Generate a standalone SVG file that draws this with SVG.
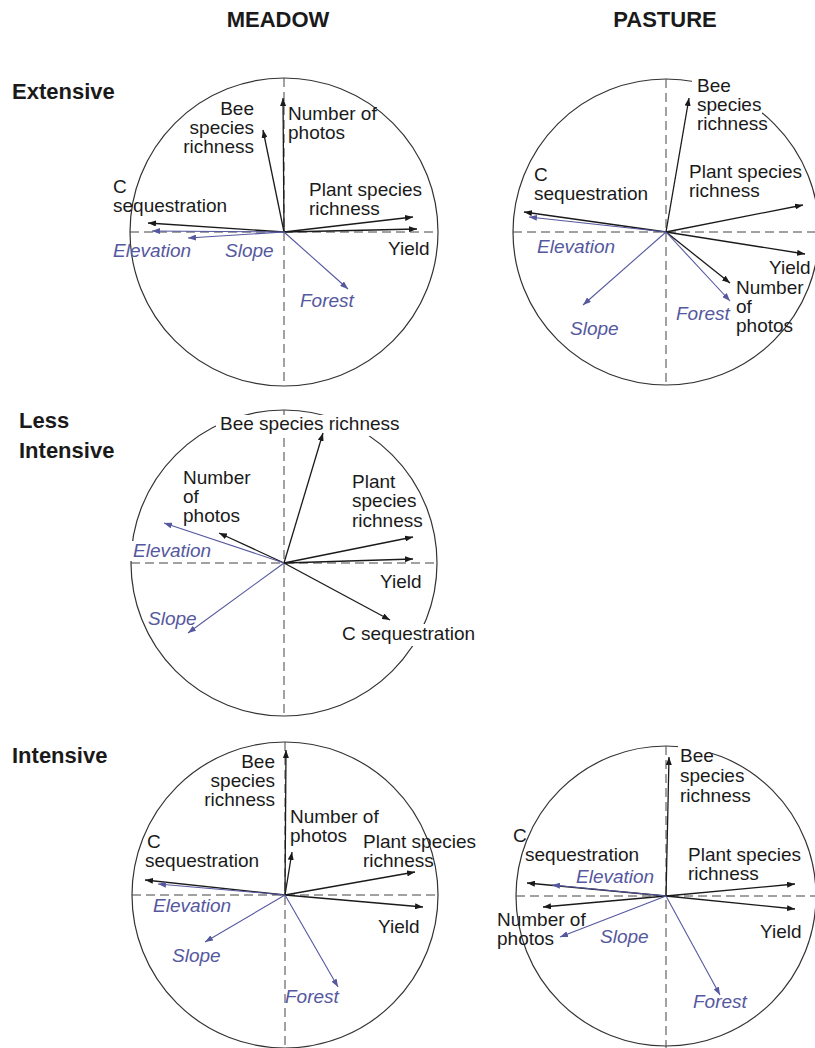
<svg xmlns="http://www.w3.org/2000/svg" width="815" height="1048" viewBox="0 0 815 1048">
<defs>
<marker id="ab" viewBox="0 0 8 6" refX="8" refY="3" markerWidth="8" markerHeight="6" markerUnits="userSpaceOnUse" orient="auto"><path d="M0,0 L8,3 L0,6 z" fill="#1a1a1a"/></marker>
<marker id="au" viewBox="0 0 8 6" refX="8" refY="3" markerWidth="8" markerHeight="6" markerUnits="userSpaceOnUse" orient="auto"><path d="M0,0 L8,3 L0,6 z" fill="#55589e"/></marker>
</defs>
<style>
.circ{fill:none;stroke:#333;stroke-width:1.2}
.ax{stroke:#444;stroke-width:1;stroke-dasharray:9 5;fill:none}
.bg{fill:#fff}
.k{stroke:#1a1a1a;stroke-width:1.3;fill:none;marker-end:url(#ab)}
.u{stroke:#55589e;stroke-width:1.1;fill:none;marker-end:url(#au)}
.t{font-family:"Liberation Sans",Arial,sans-serif;font-size:19px;fill:#1a1a1a}
.b{font-style:italic;fill:#55589e}
.e{text-anchor:end}
.h{font-family:"Liberation Sans",Arial,sans-serif;font-size:22px;font-weight:bold;fill:#1a1a1a}
</style>
<rect width="815" height="1048" fill="#fff"/>
<g id="titles">
<text class="h" x="278" y="27" text-anchor="middle">MEADOW</text>
<text class="h" x="665" y="27" text-anchor="middle">PASTURE</text>
<text class="h" x="12" y="99">Extensive</text>
<text class="h" x="19" y="428">Less</text>
<text class="h" x="19" y="458">Intensive</text>
<text class="h" x="12" y="763">Intensive</text>
</g>

<g id="meadow-extensive">
<circle class="circ" cx="284" cy="232" r="154"/>
<line class="ax" x1="130" y1="232" x2="438" y2="232"/>
<line class="ax" x1="284" y1="78" x2="284" y2="386"/>
<g class="arrows">
<line class="k" x1="284" y1="232" x2="283" y2="98"/>
<line class="k" x1="284" y1="232" x2="263" y2="130"/>
<line class="k" x1="284" y1="232" x2="413" y2="217"/>
<line class="k" x1="284" y1="232" x2="417" y2="229"/>
<line class="k" x1="284" y1="232" x2="148" y2="223"/>
<line class="u" x1="284" y1="232" x2="152" y2="231"/>
<line class="u" x1="284" y1="232" x2="188" y2="238"/>
<line class="u" x1="284" y1="232" x2="348" y2="289"/>
</g>
<text class="t e" x="254" y="115">Bee</text>
<text class="t e" x="254" y="134">species</text>
<text class="t e" x="254" y="153">richness</text>
<text class="t" x="288" y="120">Number of</text>
<text class="t" x="288" y="139">photos</text>
<text class="t" x="113" y="193">C</text>
<text class="t" x="113" y="212">sequestration</text>
<text class="t" x="309" y="196">Plant species</text>
<text class="t" x="309" y="215">richness</text>
<text class="t" x="388" y="255">Yield</text>
<text class="t b" x="113" y="257">Elevation</text>
<text class="t b" x="225" y="257">Slope</text>
<text class="t b" x="300" y="307">Forest</text>
</g>

<g id="pasture-extensive">
<circle class="circ" cx="666" cy="232" r="153"/>
<line class="ax" x1="513" y1="232" x2="815" y2="232"/>
<line class="ax" x1="666" y1="79" x2="666" y2="385"/>
<rect class="bg" x="692" y="76" width="70" height="42"/>
<g class="arrows">
<line class="k" x1="666" y1="232" x2="689" y2="98"/>
<line class="k" x1="666" y1="232" x2="803" y2="205"/>
<line class="k" x1="666" y1="232" x2="805" y2="254"/>
<line class="k" x1="666" y1="232" x2="730" y2="283"/>
<line class="k" x1="666" y1="232" x2="524" y2="212"/>
<line class="u" x1="666" y1="232" x2="529" y2="217"/>
<line class="u" x1="666" y1="232" x2="583" y2="305"/>
<line class="u" x1="666" y1="232" x2="730" y2="301"/>
</g>
<text class="t" x="697" y="92">Bee</text>
<text class="t" x="697" y="111">species</text>
<text class="t" x="697" y="130">richness</text>
<text class="t" x="534" y="181">C</text>
<text class="t" x="534" y="200">sequestration</text>
<text class="t" x="689" y="178">Plant species</text>
<text class="t" x="689" y="197">richness</text>
<text class="t" x="769" y="274">Yield</text>
<text class="t" x="736" y="294">Number</text>
<text class="t" x="736" y="313">of</text>
<text class="t" x="736" y="332">photos</text>
<text class="t b" x="537" y="253">Elevation</text>
<text class="t b" x="570" y="335">Slope</text>
<text class="t b" x="676" y="320">Forest</text>
</g>

<g id="meadow-less-intensive">
<circle class="circ" cx="284" cy="563" r="153"/>
<line class="ax" x1="131" y1="563" x2="437" y2="563"/>
<line class="ax" x1="284" y1="410" x2="284" y2="716"/>
<rect class="bg" x="216" y="415" width="190" height="21"/>
<rect class="bg" x="340" y="624" width="138" height="22"/>
<rect class="bg" x="129" y="541" width="84" height="20"/>
<g class="arrows">
<line class="k" x1="284" y1="563" x2="323" y2="433"/>
<line class="k" x1="284" y1="563" x2="219" y2="533"/>
<line class="k" x1="284" y1="563" x2="413" y2="537"/>
<line class="k" x1="284" y1="563" x2="413" y2="559"/>
<line class="k" x1="284" y1="563" x2="390" y2="620"/>
<line class="u" x1="284" y1="563" x2="164" y2="523"/>
<line class="u" x1="284" y1="563" x2="188" y2="633"/>
</g>
<text class="t" x="220" y="430">Bee species richness</text>
<text class="t" x="183" y="484">Number</text>
<text class="t" x="183" y="503">of</text>
<text class="t" x="183" y="522">photos</text>
<text class="t" x="352" y="488">Plant</text>
<text class="t" x="352" y="507">species</text>
<text class="t" x="352" y="527">richness</text>
<text class="t" x="380" y="588">Yield</text>
<text class="t" x="342" y="640">C sequestration</text>
<text class="t b" x="133" y="557">Elevation</text>
<text class="t b" x="148" y="625">Slope</text>
</g>

<g id="meadow-intensive">
<circle class="circ" cx="285" cy="895" r="153"/>
<line class="ax" x1="132" y1="895" x2="438" y2="895"/>
<line class="ax" x1="285" y1="742" x2="285" y2="1048"/>
<g class="arrows">
<line class="k" x1="285" y1="895" x2="286" y2="750"/>
<line class="k" x1="285" y1="895" x2="292" y2="852"/>
<line class="k" x1="285" y1="895" x2="415" y2="872"/>
<line class="k" x1="285" y1="895" x2="423" y2="907"/>
<line class="k" x1="285" y1="895" x2="145" y2="880"/>
<line class="u" x1="285" y1="895" x2="158" y2="884"/>
<line class="u" x1="285" y1="895" x2="205" y2="942"/>
<line class="u" x1="285" y1="895" x2="338" y2="987"/>
</g>
<text class="t e" x="275" y="768">Bee</text>
<text class="t e" x="275" y="787">species</text>
<text class="t e" x="275" y="806">richness</text>
<text class="t" x="290" y="823">Number of</text>
<text class="t" x="290" y="842">photos</text>
<text class="t" x="147" y="848">C</text>
<text class="t" x="145" y="867">sequestration</text>
<text class="t" x="363" y="848">Plant species</text>
<text class="t" x="363" y="867">richness</text>
<text class="t" x="378" y="933">Yield</text>
<text class="t b" x="153" y="912">Elevation</text>
<text class="t b" x="172" y="962">Slope</text>
<text class="t b" x="285" y="1003">Forest</text>
</g>

<g id="pasture-intensive">
<circle class="circ" cx="666" cy="896" r="150"/>
<line class="ax" x1="516" y1="896" x2="815" y2="896"/>
<line class="ax" x1="666" y1="746" x2="666" y2="1048"/>
<rect class="bg" x="678" y="746" width="34" height="18"/>
<g class="arrows">
<line class="k" x1="666" y1="896" x2="669" y2="757"/>
<line class="k" x1="666" y1="896" x2="795" y2="884"/>
<line class="k" x1="666" y1="896" x2="795" y2="909"/>
<line class="k" x1="666" y1="896" x2="527" y2="883"/>
<line class="k" x1="666" y1="896" x2="543" y2="907"/>
<line class="u" x1="666" y1="896" x2="552" y2="885"/>
<line class="u" x1="666" y1="896" x2="560" y2="937"/>
<line class="u" x1="666" y1="896" x2="720" y2="995"/>
</g>
<text class="t" x="680" y="762">Bee</text>
<text class="t" x="680" y="782">species</text>
<text class="t" x="680" y="802">richness</text>
<text class="t" x="513" y="842">C</text>
<text class="t" x="525" y="861">sequestration</text>
<text class="t" x="688" y="861">Plant species</text>
<text class="t" x="688" y="880">richness</text>
<text class="t" x="497" y="926">Number of</text>
<text class="t" x="497" y="945">photos</text>
<text class="t" x="760" y="938">Yield</text>
<text class="t b" x="576" y="883">Elevation</text>
<text class="t b" x="600" y="943">Slope</text>
<text class="t b" x="693" y="1008">Forest</text>
</g>
</svg>
